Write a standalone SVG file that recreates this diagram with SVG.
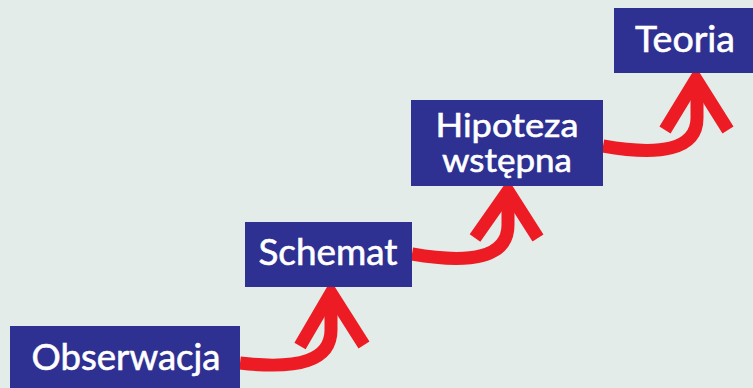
<svg xmlns="http://www.w3.org/2000/svg" width="753" height="388" viewBox="0 0 753 388">
<style>
.box{fill:#2e3192}
.lbl{fill:#ffffff;font-family:Lato,"Open Sans","DejaVu Sans",sans-serif;font-size:36px;text-anchor:middle;stroke:#ffffff;stroke-width:0.6}
.sm{font-size:33px}
.arr{fill:none;stroke:#ed1c24;stroke-width:13;stroke-linejoin:miter;stroke-miterlimit:10}
</style>
<rect width="753" height="388" fill="#e3ece8"/>
<g id="connectors">
<path class="arr" d="M240,363 C300,370 331,360 331,330 L331,295"/>
<path class="arr" d="M300,346 L331,293 L364,345"/>
<path class="arr" d="M412,254 C470,264 508,258 508,225 L508,193"/>
<path class="arr" d="M475,238 L508,191 L538,238"/>
<path class="arr" d="M603,146 C660,156 697,150 697,118 L697,81"/>
<path class="arr" d="M665,130 L696,79 L728,130"/>
</g>
<g id="obserwacja">
<rect class="box" x="10" y="326" width="230" height="70"/>
<text class="lbl" x="126" y="370" textLength="189" lengthAdjust="spacingAndGlyphs">Obserwacja</text>
</g>
<g id="schemat">
<rect class="box" x="245" y="222" width="167" height="65"/>
<text class="lbl" x="328" y="265" textLength="139" lengthAdjust="spacingAndGlyphs">Schemat</text>
</g>
<g id="hipoteza">
<rect class="box" x="411" y="100" width="192" height="86"/>
<text class="lbl sm" x="507" y="137" textLength="143" lengthAdjust="spacingAndGlyphs">Hipoteza</text>
<text class="lbl sm" x="507" y="172" textLength="130" lengthAdjust="spacingAndGlyphs">wstępna</text>
</g>
<g id="teoria">
<rect class="box" x="614" y="8" width="145" height="65"/>
<text class="lbl" x="685" y="52" textLength="100" lengthAdjust="spacingAndGlyphs">Teoria</text>
</g>
</svg>
